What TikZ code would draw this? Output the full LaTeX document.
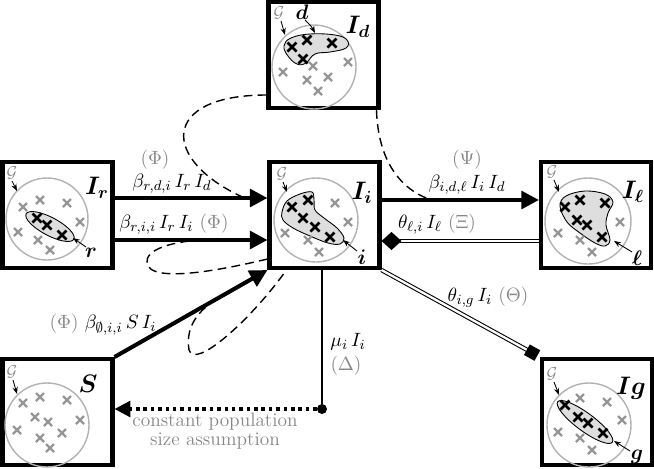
\documentclass[tikz,border=0pt]{standalone}
\usepackage{amsmath,amssymb}
\usetikzlibrary{arrows.meta,calc}
\definecolor{lgray}{RGB}{178,178,178}
\definecolor{xgray}{RGB}{150,150,150}
\definecolor{tgray}{RGB}{135,135,135}
\definecolor{blobfill}{RGB}{222,222,222}
\begin{document}
\begin{tikzpicture}[x=0.02cm,y=-0.02cm,
 box/.style={draw, line width=2.3pt, minimum width=2.2cm, minimum height=2.12cm, inner sep=0pt},
 grp/.style={draw=lgray, line width=0.8pt},
 blob/.style={draw=black, fill=blobfill, line width=0.5pt},
 gx/.style={draw=xgray, line width=1.3pt},
 bx/.style={draw=black, line width=1.5pt},
 ptr/.style={-{Stealth[length=4pt,width=3pt]}, line width=0.5pt},
 glab/.style={text=tgray, font=\small, inner sep=0pt},
 blab/.style={font=\Large\boldmath, inner sep=0pt},
 slab/.style={font=\large\boldmath, inner sep=0pt},
 elab/.style={font=\fontsize{11}{13}\selectfont, inner sep=1pt},
 flow/.style={line width=2.3pt, -{Triangle[length=10pt,width=10pt]}},
 dbl/.style={double, double distance=1.3pt, line width=0.6pt},
 dsh/.style={dash pattern=on 5pt off 3pt, line width=0.8pt},
]
\useasboundingbox (0,0) rectangle (654,468);

% ---------- boxes ----------
\node[box] (Id) at (323.5,55) {};
\node[box] (Ir) at (57.5,215) {};
\node[box] (Ii) at (324.5,215) {};
\node[box] (Il) at (596,215) {};
\node[box] (S)  at (57.5,412) {};
\node[box] (Ig) at (597,412) {};

% ---------- I_d contents ----------
\draw[grp] (314,67) circle[radius=42];
\draw[blob] plot[smooth cycle, tension=0.7] coordinates {(284,46) (291,38) (310,34) (335,35) (347,40) (346,48) (330,52) (315,54) (306,63) (297,64) (288,56)};
\foreach \a/\b in {283/72, 313/66, 348/62, 307/80, 328/77, 318/91}
  \draw[gx] (\a-4,\b-4) -- (\a+4,\b+4) (\a-4,\b+4) -- (\a+4,\b-4);
\foreach \a/\b in {292/47, 307/40, 332/43, 303/59}
  \draw[bx] (\a-4.5,\b-4.5) -- (\a+4.5,\b+4.5) (\a-4.5,\b+4.5) -- (\a+4.5,\b-4.5);
\node[glab] (gId) at (279,13) {$\mathcal{G}$};
\draw[ptr] (281,21) -- (285,35);
\node[slab] (sId) at (302,12) {$d$};
\draw[ptr] (305,20) to[bend left=10] (315,33);
\node[blab] (lId) at (358,27) {$I_d$};

% ---------- I_r contents ----------
\draw[grp] (47,219) circle[radius=41];
\draw[blob, rotate around={-28:(50,226.5)}] (50,226.5) ellipse[x radius=27, y radius=9];
\foreach \a/\b in {23/207, 40/200, 67/203, 80/222, 18/232, 38/240, 50/250}
  \draw[gx] (\a-4,\b-4) -- (\a+4,\b+4) (\a-4,\b+4) -- (\a+4,\b-4);
\foreach \a/\b in {37/218, 47/225, 62/235}
  \draw[bx] (\a-4.5,\b-4.5) -- (\a+4.5,\b+4.5) (\a-4.5,\b+4.5) -- (\a+4.5,\b-4.5);
\node[glab] (gIr) at (12,173) {$\mathcal{G}$};
\draw[ptr] (12,181) -- (17,191);
\node[slab] (sIr) at (91,253) {$r$};
\draw[ptr] (86,247) -- (73,238);
\node[blab] (lIr) at (97,188) {$I_r$};

% ---------- I_i contents ----------
\draw[grp] (316,220) circle[radius=42];
\draw[blob] plot[smooth cycle, tension=0.6] coordinates {(282,212) (287,201) (300,194) (312,192) (314,200) (315,210) (324,218) (337,228) (344,238) (340,244) (328,243) (310,236) (293,228) (283,220)};
\foreach \a/\b in {335/203, 348/222, 285/233, 308/240, 319/252}
  \draw[gx] (\a-4,\b-4) -- (\a+4,\b+4) (\a-4,\b+4) -- (\a+4,\b-4);
\foreach \a/\b in {292/207, 308/200, 303/218, 315/227, 330/237}
  \draw[bx] (\a-4.5,\b-4.5) -- (\a+4.5,\b+4.5) (\a-4.5,\b+4.5) -- (\a+4.5,\b-4.5);
\node[glab] (gIi) at (282,174) {$\mathcal{G}$};
\draw[ptr] (283,182) -- (287,192);
\node[slab] (sIi) at (362,257) {$i$};
\draw[ptr] (357,251) -- (343,240);
\node[blab] (lIi) at (362,193) {$I_i$};

% ---------- I_l contents ----------
\draw[grp] (588,221) circle[radius=43];
\draw[blob] plot[smooth cycle, tension=0.6] coordinates {(560,206) (566,196) (585,191) (605,194) (613,202) (608,213) (606,225) (610,240) (605,246) (595,243) (580,233) (567,222)};
\foreach \a/\b in {620/222, 558/233, 580/240, 592/252}
  \draw[gx] (\a-4,\b-4) -- (\a+4,\b+4) (\a-4,\b+4) -- (\a+4,\b-4);
\foreach \a/\b in {565/207, 580/200, 605/203, 577/220, 587/225, 602/237}
  \draw[bx] (\a-4.5,\b-4.5) -- (\a+4.5,\b+4.5) (\a-4.5,\b+4.5) -- (\a+4.5,\b-4.5);
\node[glab] (gIl) at (552,172) {$\mathcal{G}$};
\draw[ptr] (554,180) -- (559,192);
\node[slab] (sIl) at (637,258) {$\ell$};
\draw[ptr] (632,252) -- (614,241);
\node[blab] (lIl) at (633,192) {$I_\ell$};

% ---------- S contents ----------
\draw[grp] (47,425) circle[radius=42];
\foreach \a/\b in {23/403, 40/397, 67/400, 35/417, 48/422, 80/420, 17/430, 40/438, 62/433, 50/448}
  \draw[gx] (\a-4,\b-4) -- (\a+4,\b+4) (\a-4,\b+4) -- (\a+4,\b-4);
\node[glab] (gS) at (12,372) {$\mathcal{G}$};
\draw[ptr] (13,380) -- (17,394);
\node[blab] (lS) at (88,384) {$S$};

% ---------- I_g contents ----------
\draw[grp] (589,425) circle[radius=42];
\draw[blob, rotate around={-36.5:(585,422)}] (585,422) ellipse[x radius=34, y radius=9];
\foreach \a/\b in {580/398, 607/402, 622/420, 558/432, 580/438, 592/450}
  \draw[gx] (\a-4,\b-4) -- (\a+4,\b+4) (\a-4,\b+4) -- (\a+4,\b-4);
\foreach \a/\b in {565/405, 578/417, 588/423, 603/433}
  \draw[bx] (\a-4.5,\b-4.5) -- (\a+4.5,\b+4.5) (\a-4.5,\b+4.5) -- (\a+4.5,\b-4.5);
\node[glab] (gIg) at (552,374) {$\mathcal{G}$};
\draw[ptr] (554,382) -- (559,395);
\node[slab] (sIg) at (637,457) {$g$};
\draw[ptr] (630,451) -- (614,441);
\node[blab] (lIg) at (631,388) {$Ig$};

% ---------- flows ----------
\coordinate (a1s) at ($(Ir.east)+(0,-17)$);
\coordinate (a1e) at ($(Ii.west)+(0,-17)$);
\coordinate (a2s) at ($(Ir.east)+(0,25)$);
\coordinate (a2e) at ($(Ii.west)+(0,25)$);
\coordinate (a3s) at ($(Ii.east)+(0,-15)$);
\coordinate (a3e) at ($(Il.west)+(0,-15)$);
\draw[flow] (a1s) -- (a1e);
\draw[flow] (a2s) -- (a2e);
\draw[flow] (a3s) -- (a3e);
\draw[flow] (S.north east) -- (Ii.south west);

% recovery-type double lines
\coordinate (dA) at ($(Ii.east)+(0,26)$);
\coordinate (dB) at ($(Il.west)+(0,26)$);
\draw[dbl] (dB) -- ($(dA)+(18,0)$);
\fill (dA) -- ++(10,-9) -- ++(10,9) -- ++(-10,9) -- cycle;
\draw[dbl, shorten >=3pt] (Ii.south east) -- (Ig.north west);
\fill[rotate around={-29:(Ig.north west)}] ($(Ig.north west)+(-15,-6)$) rectangle ++(12,12);

% mortality
\node[circle, fill, inner sep=0pt, minimum size=0.2cm] (dot) at (322,409) {};
\draw[line width=1.2pt] (dot) -- (dot |- Ii.south);
\draw[line width=1.8pt, dash pattern=on 2pt off 2.2pt, -{Triangle[length=9pt,width=9pt]}] (dot) -- (dot -| S.east);

% ---------- dashed interaction curves ----------
\coordinate (c1) at ($(a1s)!0.85!(a1e)$);
\coordinate (c2) at ($(a3s)!0.32!(a3e)$);
\coordinate (c3) at ($(a2s)!0.56!(a2e)$);
\coordinate (c4) at ($(S.north east)!0.667!(Ii.south west)$);
\draw[dsh] ($(Id.west)+(0,40)$) .. controls (160,95) and (160,160) .. (c1);
\draw[dsh] ($(Id.south east)+(-4,0)$) .. controls (378,160) and (400,190) .. (c2);
\draw[dsh] ($(Ii.west)+(0,44)$) .. controls (230,268) and (150,285) .. (147,263) .. controls (145,250) and (170,242) .. (c3);
\draw[dsh] ($(Ii.south west)+(16,4)$) .. controls (250,320) and (195,370) .. (189,350) .. controls (185,325) and (200,310) .. (c4);

% ---------- edge labels ----------
\node[elab, text=tgray] (phi1) at (155,160) {$(\Phi)$};
\node[elab] (b1) at (172,184) {$\beta_{r,d,i}\,I_r\,I_d$};
\node[elab] (b2) at (174,224) {$\beta_{r,i,i}\,I_r\,I_i$ \textcolor{tgray}{$(\Phi)$}};
\node[elab, text=tgray] (psi) at (467,160) {$(\Psi)$};
\node[elab] (b3) at (467,185) {$\beta_{i,d,\ell}\,I_i\,I_d$};
\node[elab] (t1) at (437,224) {$\theta_{\ell,i}\,I_\ell$ \textcolor{tgray}{$(\Xi)$}};
\node[elab] (t2) at (488,297) {$\theta_{i,g}\,I_i$ \textcolor{tgray}{$(\Theta)$}};
\node[elab] (b4) at (103,325) {\textcolor{tgray}{$(\Phi)$} $\beta_{\emptyset,i,i}\,S\,I_i$};
\node[elab, inner sep=0pt] (mu) at (348,342) {$\mu_i\,I_i$};
\node[elab, inner sep=0pt, text=tgray] (del) at (346,366) {$(\Delta)$};
\node[elab, text=tgray, align=center, font=\fontsize{11}{10.5}\selectfont] (csa) at (215,431) {constant population\\size assumption};
\end{tikzpicture}
\end{document}
